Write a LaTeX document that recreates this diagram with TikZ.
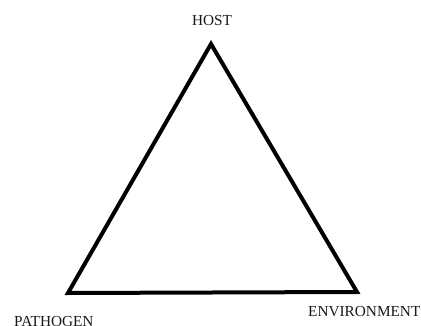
\documentclass[tikz,border=0pt]{standalone}
\usepackage{fontspec}
\setmainfont{Liberation Serif}
\begin{document}
\begin{tikzpicture}[x=1pt,y=-1pt,
  lbl/.style={inner sep=0pt, font=\fontsize{15.3}{17}\selectfont, text=black!90},
  edge/.style={line width=4pt, line join=miter}]
\useasboundingbox (0,0) rectangle (421,326);
\coordinate (host) at (211,44);
\coordinate (path) at (68,293);
\coordinate (env) at (357,292);
\draw[edge] (host) -- (path) -- (env) -- cycle;
\node[lbl] (hl) at (212,20.5) {HOST};
\node[lbl, anchor=west] (pl) at (14,322) {PATHOGEN};
\node[lbl, anchor=west] (el) at (308,312) {ENVIRONMENT};
\end{tikzpicture}
\end{document}
